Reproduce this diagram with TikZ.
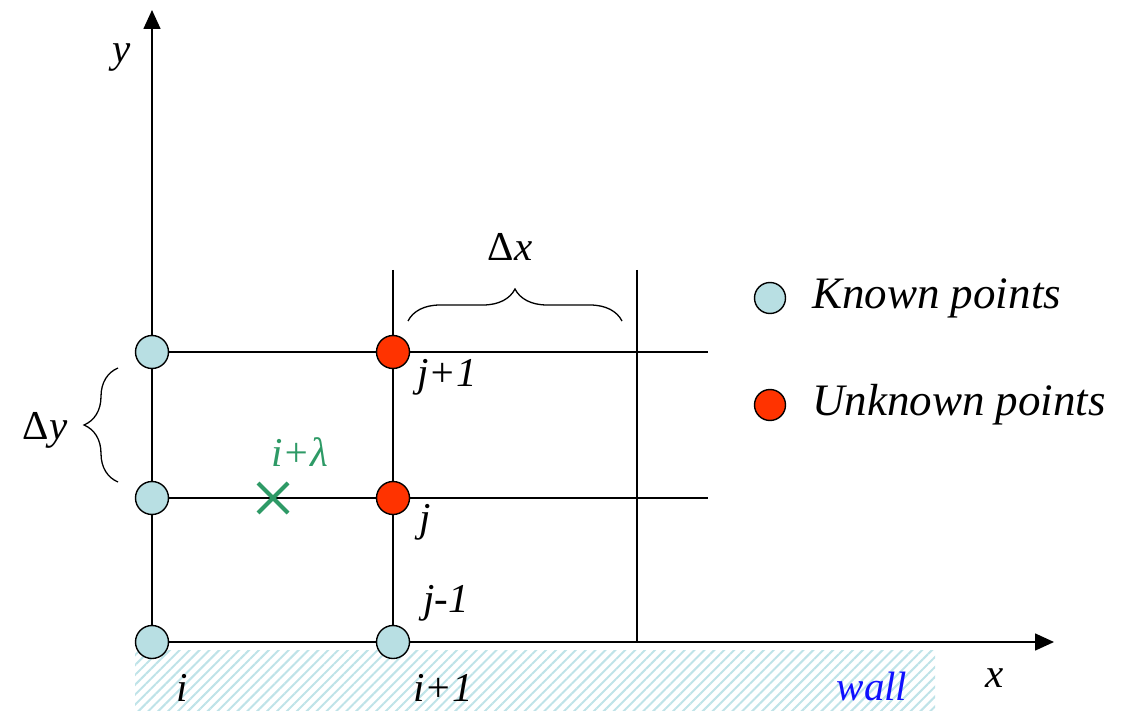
\documentclass[tikz,border=0pt]{standalone}
\usepackage{fontspec}
\setmainfont{Liberation Serif}
\usetikzlibrary{patterns.meta,decorations.pathreplacing,arrows.meta}
\definecolor{known}{HTML}{B8DFE3}
\definecolor{unknown}{HTML}{FF3300}
\definecolor{hatch}{HTML}{BFE3E8}
\definecolor{greenx}{HTML}{2E9A66}
\definecolor{wallblue}{HTML}{1010FF}
\tikzset{
  grid/.style={line width=1.6pt},
  axis/.style={line width=1.6pt,-{Triangle[length=19pt,width=17pt]}},
  knownpt/.style={circle,draw,line width=1.4pt,fill=known,minimum size=33pt,inner sep=0pt},
  unknownpt/.style={circle,draw,line width=1.4pt,fill=unknown,minimum size=33pt,inner sep=0pt},
  lbl/.style={font=\fontsize{41}{46}\selectfont\itshape,inner sep=0pt},
  leg/.style={font=\fontsize{45}{50}\selectfont\itshape,inner sep=0pt},
  brace/.style={decorate,decoration={brace,amplitude=#1},line width=1.3pt},
}
\begin{document}
\begin{tikzpicture}[x=1pt,y=-1pt]
\useasboundingbox (0,0) rectangle (1137,711);
% wall hatch
\path[pattern={Lines[angle=45,distance=7pt,line width=2pt]},pattern color=hatch] (135,650) rectangle (935,711);
% grid
\coordinate (ytop) at (152,10);
\coordinate (xend) at (1054,642);
\coordinate (r1) at (708,352);
\coordinate (r2) at (708,498);
\coordinate (v1t) at (393,270);
\coordinate (v2t) at (637,270);
\coordinate (v2b) at (637,642);
\coordinate (p1) at (152,352);
\coordinate (p2) at (152,498);
\coordinate (p3) at (152,642);
\coordinate (q1) at (393,352);
\coordinate (q2) at (393,498);
\coordinate (q3) at (393,642);
\draw[axis] (p3) -- (ytop);
\draw[axis] (p3) -- (xend);
\draw[grid] (p1) -- (r1);
\draw[grid] (p2) -- (r2);
\draw[grid] (v1t) -- (q3);
\draw[grid] (v2t) -- (v2b);
% points
\node[knownpt] (a1) at (p1) {};
\node[knownpt] (a2) at (p2) {};
\node[knownpt] (a3) at (p3) {};
\node[knownpt] (b3) at (q3) {};
\node[unknownpt] (b1) at (q1) {};
\node[unknownpt] (b2) at (q2) {};
% cross
\coordinate (c1) at (258,483);
\coordinate (c2) at (288,513);
\coordinate (c3) at (258,513);
\coordinate (c4) at (288,483);
\draw[greenx,line width=4pt] (c1) -- (c2) (c3) -- (c4);
% braces
\coordinate (bx1) at (408,321);
\coordinate (bx2) at (622,321);
\draw[brace=32pt] (bx1) -- (bx2);
\coordinate (by1) at (118,482);
\coordinate (by2) at (118,368);
\draw[brace=34pt] (by1) -- (by2);
% labels
\node[lbl] (ly) at (122,58) {y};
\node[lbl] (lx) at (995,678) {x};
\node[lbl] (li) at (182,688) {i};
\node[lbl] (li1) at (443,688) {i+1};
\node[lbl,text=wallblue] (lw) at (872,686) {wall};
\node[lbl] (lj1) at (447,377) {j+1};
\node[lbl] (lj) at (425,522) {j};
\node[lbl] (ljm) at (446,603) {j-1};
\node[lbl,text=greenx] (lil) at (300,452) {i+λ};
\node[lbl] (ldx) at (510,247) {{\upshape Δ}x};
\node[lbl] (ldy) at (45,430) {{\upshape Δ}y};
% legend
\node[knownpt,minimum size=31pt] (lk) at (770,298) {};
\node[unknownpt,minimum size=31pt] (lu) at (770,405) {};
\node[leg,anchor=west] (tk) at (812,298) {Known points};
\node[leg,anchor=west] (tu) at (812,405) {Unknown points};
\end{tikzpicture}
\end{document}
